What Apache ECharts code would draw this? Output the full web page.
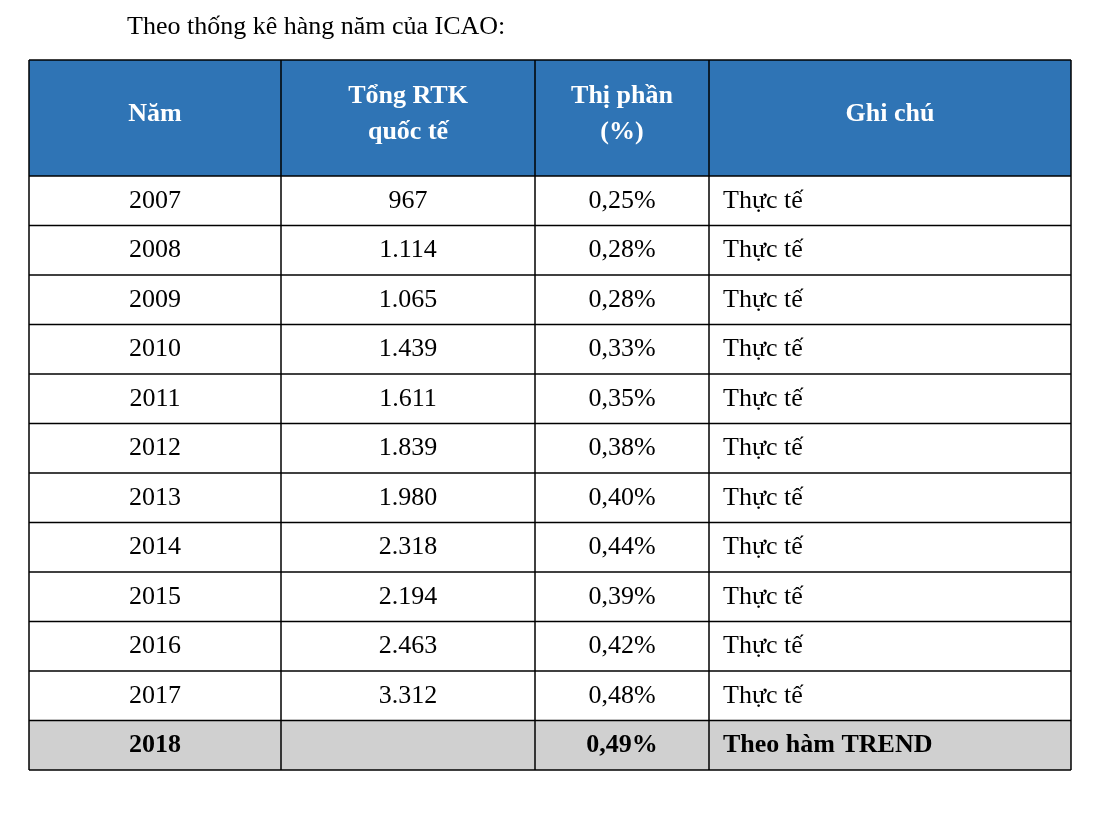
<!DOCTYPE html>
<html><head><meta charset="utf-8">
<script src="https://cdn.jsdelivr.net/npm/echarts@6/dist/echarts.min.js"></script>
<style>html,body{margin:0;background:#fff}#chart-container{width:1102px;height:814px}</style>
</head><body><div id="chart-container"></div>
<script>
var title = 'Theo thống kê hàng năm của ICAO:';
var headers = ['Năm', 'Tổng RTK\nquốc tế', 'Thị phần\n(%)', 'Ghi chú'];
var years = ['2007','2008','2009','2010','2011','2012','2013','2014','2015','2016','2017','2018'];
var rtk = ['967','1.114','1.065','1.439','1.611','1.839','1.980','2.318','2.194','2.463','3.312',''];
var share = ['0,25%','0,28%','0,28%','0,33%','0,35%','0,38%','0,40%','0,44%','0,39%','0,42%','0,48%','0,49%'];
var notes = ['Thực tế','Thực tế','Thực tế','Thực tế','Thực tế','Thực tế','Thực tế','Thực tế','Thực tế','Thực tế','Thực tế','Theo hàm TREND'];

var chartDom = document.getElementById('chart-container');
var myChart = echarts.init(chartDom);

var colX = [29, 281, 535, 709, 1071];
var headTop = 60, headBottom = 176, rowH = 49.5;
var font = '"Liberation Serif", "Times New Roman", serif';
var els = [];

els.push({ type: 'text', left: 127, top: 14, style: { text: title, font: '26px ' + font, fill: '#000' } });
els.push({ type: 'rect', shape: { x: colX[0], y: headTop, width: colX[4] - colX[0], height: headBottom - headTop }, style: { fill: '#2f74b5' } });

var rows = years.map(function (y, i) { return [y, rtk[i], share[i], notes[i]]; });
rows.forEach(function (r, i) {
  var top = headBottom + i * rowH;
  var last = i === rows.length - 1;
  if (last) els.push({ type: 'rect', shape: { x: colX[0], y: top, width: colX[4] - colX[0], height: rowH }, style: { fill: '#d0d0d0' } });
  r.forEach(function (t, c) {
    var leftAlign = c === 3;
    els.push({ type: 'text', x: leftAlign ? colX[3] + 14 : (colX[c] + colX[c + 1]) / 2, y: top + rowH / 2,
      style: { text: t, font: (last ? 'bold ' : '') + '26px ' + font, fill: '#000', align: leftAlign ? 'left' : 'center', verticalAlign: 'middle' } });
  });
});
headers.forEach(function (h, c) {
  els.push({ type: 'text', x: (colX[c] + colX[c + 1]) / 2, y: (headTop + headBottom) / 2 - 4,
    style: { text: h, font: 'bold 26px ' + font, lineHeight: 36, fill: '#fff', align: 'center', verticalAlign: 'middle' } });
});

var bottom = headBottom + rows.length * rowH;
var line = { stroke: '#000', lineWidth: 1.5 };
for (var i = 0; i <= rows.length; i++) {
  var yy = headBottom + i * rowH;
  els.push({ type: 'line', shape: { x1: colX[0], y1: yy, x2: colX[4], y2: yy }, style: line });
}
els.push({ type: 'line', shape: { x1: colX[0], y1: headTop, x2: colX[4], y2: headTop }, style: line });
colX.forEach(function (x) {
  els.push({ type: 'line', shape: { x1: x, y1: headTop, x2: x, y2: bottom }, style: line });
});

option = { animation: false, graphic: { elements: els } };
option && myChart.setOption(option);
</script></body></html>
